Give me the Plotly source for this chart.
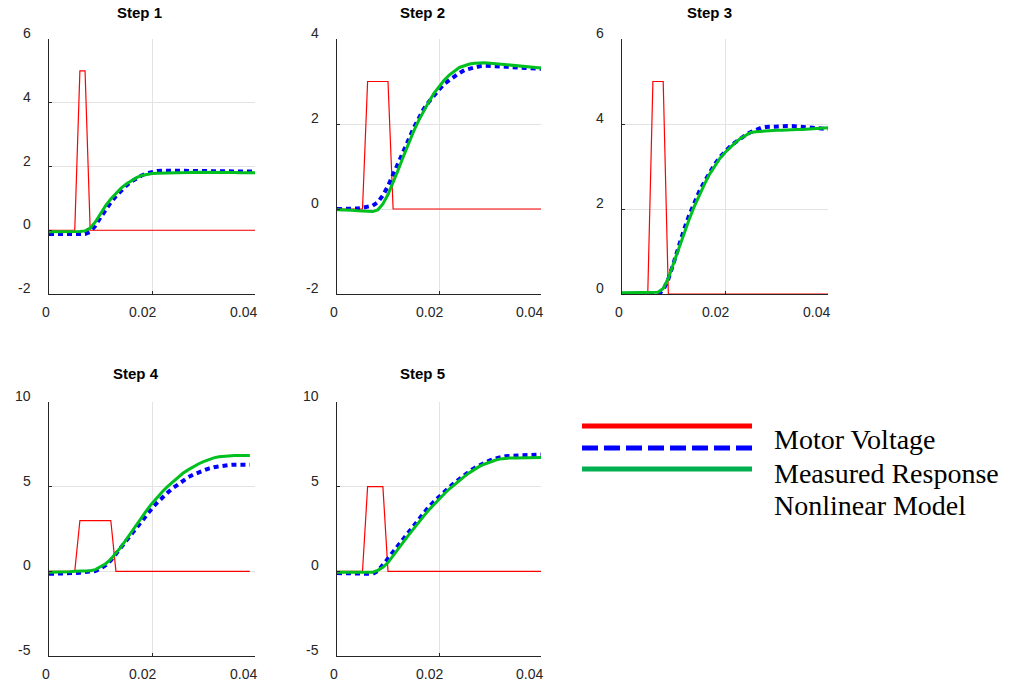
import plotly.graph_objects as go

# ---------------- data ----------------
# sample times (s) for the response curves, 1 ms spacing
t41 = [i / 1000 for i in range(41)]
t40 = [i / 1000 for i in range(40)]

titles = ["Step 1", "Step 2", "Step 3", "Step 4", "Step 5"]

# Motor voltage (pulse breakpoints)
volt_t = [
    [0, 0.005, 0.006, 0.007, 0.008, 0.040],
    [0, 0.005, 0.006, 0.010, 0.011, 0.040],
    [0, 0.005, 0.006, 0.008, 0.009, 0.040],
    [0, 0.005, 0.006, 0.012, 0.013, 0.039],
    [0, 0.005, 0.006, 0.009, 0.010, 0.040],
]
volt_v = [
    [0, 0, 5, 5, 0, 0],
    [0, 0, 3, 3, 0, 0],
    [0, 0, 5, 5, 0, 0],
    [0, 0, 3, 3, 0, 0],
    [0, 0, 5, 5, 0, 0],
]

meas_1 = [-0.12, -0.12, -0.12, -0.12, -0.12, -0.12, -0.12, -0.12, -0.05, 0.14, 0.40,
          0.65, 0.87, 1.07, 1.24, 1.40, 1.53, 1.63, 1.72, 1.79, 1.84,
          1.86, 1.87, 1.87, 1.87, 1.87, 1.87, 1.87, 1.87, 1.87, 1.87,
          1.87, 1.87, 1.86, 1.86, 1.86, 1.85, 1.85, 1.85, 1.84, 1.84]
model_1 = [-0.05, -0.05, -0.05, -0.05, -0.05, -0.04, -0.04, -0.02, 0.07, 0.26, 0.53,
           0.77, 0.98, 1.16, 1.32, 1.45, 1.56, 1.65, 1.72, 1.76, 1.78,
           1.79, 1.79, 1.80, 1.80, 1.80, 1.81, 1.81, 1.82, 1.82, 1.83,
           1.83, 1.83, 1.82, 1.82, 1.81, 1.81, 1.80, 1.80, 1.80, 1.80]

meas_2 = [0.0, 0.0, 0.0, 0.0, 0.01, 0.03, 0.05, 0.08, 0.16, 0.32, 0.54,
          0.80, 1.06, 1.35, 1.62, 1.90, 2.15, 2.35, 2.52, 2.68, 2.81,
          2.94, 3.03, 3.13, 3.20, 3.27, 3.30, 3.34, 3.36, 3.37, 3.37,
          3.36, 3.36, 3.35, 3.34, 3.34, 3.33, 3.32, 3.31, 3.30, 3.30]
model_2 = [-0.02, -0.02, -0.03, -0.03, -0.04, -0.05, -0.06, -0.06, -0.02, 0.12, 0.34,
           0.61, 0.92, 1.23, 1.53, 1.82, 2.08, 2.31, 2.52, 2.72, 2.89,
           3.03, 3.15, 3.25, 3.33, 3.37, 3.41, 3.43, 3.44, 3.44, 3.43,
           3.42, 3.41, 3.40, 3.39, 3.38, 3.37, 3.36, 3.35, 3.33, 3.32]

meas_3 = [-0.02, -0.02, -0.02, -0.02, -0.02, -0.02, -0.02, -0.01, 0.09, 0.35, 0.72,
          1.13, 1.50, 1.84, 2.15, 2.41, 2.64, 2.85, 3.05, 3.22, 3.35,
          3.47, 3.57, 3.66, 3.74, 3.81, 3.87, 3.91, 3.93, 3.94, 3.94,
          3.95, 3.95, 3.95, 3.94, 3.94, 3.93, 3.92, 3.91, 3.89, 3.88]
model_3 = [0.03, 0.03, 0.03, 0.03, 0.03, 0.03, 0.03, 0.04, 0.13, 0.37, 0.72,
           1.07, 1.43, 1.74, 2.05, 2.33, 2.58, 2.82, 3.02, 3.19, 3.33,
           3.45, 3.56, 3.66, 3.74, 3.80, 3.82, 3.83, 3.84, 3.84, 3.85,
           3.85, 3.86, 3.86, 3.87, 3.87, 3.88, 3.89, 3.89, 3.90, 3.91]

meas_4 = [-0.15, -0.15, -0.14, -0.13, -0.12, -0.10, -0.08, -0.06, -0.04, 0.02, 0.16,
          0.36, 0.65, 1.01, 1.40, 1.80, 2.19, 2.59, 2.98, 3.36, 3.72,
          4.05, 4.37, 4.64, 4.90, 5.14, 5.36, 5.55, 5.71, 5.85, 5.97,
          6.07, 6.15, 6.21, 6.26, 6.28, 6.30, 6.30, 6.30, 6.30]
model_4 = [-0.05, -0.05, -0.04, -0.03, -0.02, 0.0, 0.0, 0.01, 0.04, 0.10, 0.26,
           0.45, 0.71, 1.05, 1.44, 1.88, 2.33, 2.79, 3.22, 3.62, 4.01,
           4.37, 4.70, 5.00, 5.28, 5.55, 5.79, 5.99, 6.19, 6.34, 6.48,
           6.60, 6.70, 6.76, 6.80, 6.82, 6.84, 6.84, 6.84, 6.84]

meas_5 = [-0.10, -0.10, -0.10, -0.10, -0.12, -0.13, -0.15, -0.15, 0.02, 0.36, 0.75,
          1.15, 1.54, 1.94, 2.33, 2.73, 3.10, 3.46, 3.81, 4.11, 4.41,
          4.68, 4.96, 5.22, 5.47, 5.69, 5.91, 6.11, 6.28, 6.44, 6.56,
          6.66, 6.74, 6.80, 6.82, 6.84, 6.86, 6.87, 6.88, 6.89, 6.90]
model_5 = [-0.05, -0.05, -0.05, -0.05, -0.05, -0.05, -0.06, -0.05, 0.06, 0.24, 0.52,
           0.90, 1.30, 1.72, 2.12, 2.52, 2.91, 3.26, 3.62, 3.95, 4.27,
           4.57, 4.86, 5.12, 5.38, 5.61, 5.83, 6.03, 6.21, 6.34, 6.46,
           6.56, 6.64, 6.68, 6.70, 6.70, 6.70, 6.71, 6.71, 6.72, 6.72]

resp_t = [t41, t41, t41, t40, t41]
measured = [meas_1, meas_2, meas_3, meas_4, meas_5]
model = [model_1, model_2, model_3, model_4, model_5]

x_ticks = [0, 0.02, 0.04]
x_ticktext = ["0", "0.02", "0.04"]
y_ranges = [[-2, 6], [-2, 4], [0, 6], [-5, 10], [-5, 10]]
y_ticks = [[-2, 0, 2, 4, 6], [-2, 0, 2, 4], [0, 2, 4, 6], [-5, 0, 5, 10], [-5, 0, 5, 10]]

legend_labels = ["Motor Voltage", "Measured Response", "Nonlinear Model"]

# ---------------- styling / layout ----------------
W, H = 1016, 687
RED = "#ff0000"
BLUE = "#0000ff"
GREEN = "#00c020"
AXC = "#262626"
GRID = "#e3e3e3"
SANS = "Liberation Sans, Arial, sans-serif"
X_LABEL_SHIFT = [-3, -10, -12]   # original renders x tick labels a bit left of ticks

# pixel boxes of the axes (left, right, top, bottom)
boxes = [
    (49, 255, 39, 294),
    (337, 541, 39, 294),
    (622, 828, 39, 294),
    (49, 255, 402, 656),
    (337, 541, 402, 656),
]
title_pos = [(139, 12), (422, 12), (709, 12), (136, 373), (422, 373)]

fig = go.Figure()
layout = dict(
    width=W, height=H,
    margin=dict(l=0, r=0, t=0, b=0),
    paper_bgcolor="white", plot_bgcolor="white",
    showlegend=False,
    font=dict(family=SANS, size=14, color=AXC),
)
annotations = []
shapes = []

for i in range(5):
    k = i + 1
    xa = "x" if k == 1 else f"x{k}"
    ya = "y" if k == 1 else f"y{k}"
    fig.add_trace(go.Scatter(x=volt_t[i], y=volt_v[i], mode="lines",
                             line=dict(color=RED, width=1.2),
                             xaxis=xa, yaxis=ya, name=legend_labels[0]))
    fig.add_trace(go.Scatter(x=resp_t[i], y=measured[i], mode="lines",
                             line=dict(color=BLUE, width=4, dash="5px,4px"),
                             xaxis=xa, yaxis=ya, name=legend_labels[1]))
    fig.add_trace(go.Scatter(x=resp_t[i], y=model[i], mode="lines",
                             line=dict(color=GREEN, width=3),
                             xaxis=xa, yaxis=ya, name=legend_labels[2]))
    l, r, t, b = boxes[i]
    xkey = "xaxis" if k == 1 else f"xaxis{k}"
    ykey = "yaxis" if k == 1 else f"yaxis{k}"
    layout[xkey] = dict(
        domain=[l / W, r / W], anchor=ya, range=[0, 0.04],
        tickvals=x_ticks, showticklabels=False,
        showgrid=True, gridcolor=GRID, gridwidth=1, zeroline=False,
        showline=True, linecolor=AXC, linewidth=1, mirror=False,
        ticks="inside", ticklen=3, tickcolor=AXC,
    )
    layout[ykey] = dict(
        domain=[1 - b / H, 1 - t / H], anchor=xa, range=y_ranges[i],
        tickvals=y_ticks[i], showticklabels=False,
        showgrid=True, gridcolor=GRID, gridwidth=1, zeroline=False,
        showline=True, linecolor=AXC, linewidth=1, mirror=False,
        ticks="inside", ticklen=3, tickcolor=AXC,
    )
    # x tick labels
    for v, txt, sh in zip(x_ticks, x_ticktext, X_LABEL_SHIFT):
        annotations.append(dict(
            text=txt, x=v, y=-18 / (b - t),
            xref=xa, yref=f"{ya} domain", xanchor="center", yanchor="middle",
            xshift=sh, showarrow=False, font=dict(size=14, color=AXC, family=SANS),
        ))
    # y tick labels (drawn slightly above their grid lines, as in the original)
    for v in y_ticks[i]:
        annotations.append(dict(
            text=str(v), x=-16 / (r - l), y=v,
            xref=f"{xa} domain", yref=ya, xanchor="right", yanchor="middle",
            yshift=6, showarrow=False, font=dict(size=14, color=AXC, family=SANS),
        ))
    tx, ty = title_pos[i]
    annotations.append(dict(
        text=f"<b>{titles[i]}</b>", x=tx / W, y=1 - ty / H,
        xref="paper", yref="paper", xanchor="center", yanchor="middle",
        showarrow=False, font=dict(size=15, color="black", family=SANS),
    ))

# custom legend (line samples on the left, labels on the right)
leg_lines = [(426, RED, "solid"), (448, BLUE, "16px,6px"), (469, "#00b050", "solid")]
for yy, col, dash in leg_lines:
    shapes.append(dict(type="line", xref="paper", yref="paper",
                       x0=582 / W, x1=752 / W, y0=1 - yy / H, y1=1 - yy / H,
                       line=dict(color=col, width=5, dash=dash)))
leg_text_y = [439, 473, 505]
for lab, yy in zip(legend_labels, leg_text_y):
    annotations.append(dict(
        text=lab, x=772 / W, y=1 - yy / H, xref="paper", yref="paper",
        xanchor="left", yanchor="middle", showarrow=False,
        font=dict(size=28, color="black",
                  family="Liberation Serif, Times New Roman, serif"),
    ))

layout["annotations"] = annotations
layout["shapes"] = shapes
fig.update_layout(**layout)
fig.write_html(
    "out.html",
    post_script=(
        "document.documentElement.style.margin='0';"
        "document.documentElement.style.overflow='hidden';"
        "document.body.style.margin='0';document.body.style.padding='0';"
        "document.body.style.overflow='hidden';"
    ),
)
